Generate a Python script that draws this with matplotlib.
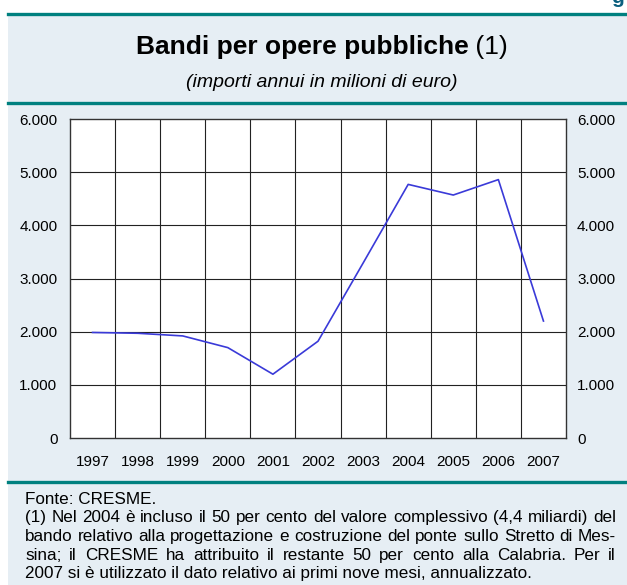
import matplotlib
matplotlib.use('Agg')
import matplotlib.pyplot as plt
from matplotlib.patches import Rectangle
from matplotlib.lines import Line2D

# Data
years = ['1997', '1998', '1999', '2000', '2001', '2002', '2003', '2004', '2005', '2006', '2007']
bandi = [1985, 1970, 1920, 1700, 1200, 1820, 3290, 4770, 4570, 4860, 2200]
y_ticks = [0, 1000, 2000, 3000, 4000, 5000, 6000]
y_labels = ['0', '1.000', '2.000', '3.000', '4.000', '5.000', '6.000']

title = 'Bandi per opere pubbliche'
subtitle = '(importi annui in milioni di euro)'
note_lines = [
    'Fonte: CRESME.',
    '(1) Nel 2004 è incluso il 50 per cento del valore complessivo (4,4 miliardi) del',
    'bando relativo alla progettazione e costruzione del ponte sullo Stretto di Mes-',
    'sina; il CRESME ha attribuito il restante 50 per cento alla Calabria. Per il',
    '2007 si è utilizzato il dato relativo ai primi nove mesi, annualizzato.',
]

W, H = 627, 585
PANEL = '#e6eef4'
TEAL = '#00807f'
plt.rcParams['font.family'] = ['Liberation Sans', 'DejaVu Sans']

fig = plt.figure(figsize=(W / 100, H / 100), dpi=100)


def fx(px):
    return px / W


def fy(py):
    return 1 - py / H


# background panel and teal rules
fig.patches.append(Rectangle((fx(8), 0), 1 - fx(8), fy(14), transform=fig.transFigure,
                             facecolor=PANEL, edgecolor='none', zorder=-5))
for ypx in [14, 103, 482]:
    fig.add_artist(Line2D([fx(8), 1], [fy(ypx), fy(ypx)], color=TEAL, lw=2.4,
                          transform=fig.transFigure))

# cut-off heading fragment at top right
fig.text(fx(624), fy(3), 'g', ha='right', va='baseline', fontsize=15,
         fontweight='bold', color='#0b5f7e')

# titles: bold part + regular "(1)", centred together
cx = 322
fig.canvas.draw()
r = fig.canvas.get_renderer()
tmp_b = fig.text(0, 0, title, fontsize=19, fontweight='bold')
tmp_n = fig.text(0, 0, ' (1)', fontsize=19)
wb = tmp_b.get_window_extent(r).width
wn = tmp_n.get_window_extent(r).width
tmp_b.remove()
tmp_n.remove()
x0 = cx - (wb + wn) / 2
fig.text(fx(x0), fy(47), title, ha='left', va='center', fontsize=19, fontweight='bold')
fig.text(fx(x0 + wb), fy(47), ' (1)', ha='left', va='center', fontsize=19)
fig.text(fx(cx), fy(83), subtitle, ha='center', va='center', fontsize=14, style='italic')

# chart
left, right, top, bottom = 70, 566, 119, 438
ax = fig.add_axes([fx(left), fy(bottom), fx(right - left), (bottom - top) / H])
ax.set_facecolor('white')
xs = list(range(len(years)))
ax.plot(xs, bandi, color='#3a3ad8', lw=1.2, zorder=3)
ax.set_xlim(-0.5, len(years) - 0.5)
ax.set_ylim(0, 6000)
ax.set_yticks(y_ticks)
ax.set_yticklabels(y_labels)
ax.set_xticks(xs)
ax.set_xticklabels(years)
for yv in y_ticks[1:-1]:
    ax.axhline(yv, color='#222222', lw=0.8, zorder=1)
for i in range(1, len(years)):
    ax.axvline(i - 0.5, color='#222222', lw=0.8, zorder=1)
for s in ax.spines.values():
    s.set_color('#333333')
    s.set_linewidth(1.0)
ax.tick_params(axis='both', length=0, labelsize=11, colors='black')
ax.tick_params(axis='x', pad=12)
ax.tick_params(axis='y', pad=9)
ax2 = ax.twinx()
ax2.set_ylim(0, 6000)
ax2.set_yticks(y_ticks)
ax2.set_yticklabels(y_labels)
ax2.tick_params(axis='y', length=0, labelsize=11, pad=8)
for s in ax2.spines.values():
    s.set_visible(False)

# footnote, justified lines
fig.canvas.draw()
r = fig.canvas.get_renderer()
xl, xr = 25, 616
fs = 12.3
for k, line in enumerate(note_lines):
    ypx = 499 + k * 18.7
    words = line.split(' ')
    justify = 1 <= k < len(note_lines) - 1
    if not justify:
        fig.text(fx(xl), fy(ypx), line, ha='left', va='center', fontsize=fs)
        continue
    widths = []
    for w in words:
        t = fig.text(0, 0, w, fontsize=fs)
        widths.append(t.get_window_extent(r).width)
        t.remove()
    gap = (xr - xl - sum(widths)) / (len(words) - 1)
    xp = xl
    for w, wd in zip(words, widths):
        fig.text(fx(xp), fy(ypx), w, ha='left', va='center', fontsize=fs)
        xp += wd + gap

fig.savefig('out.png', dpi=100)
